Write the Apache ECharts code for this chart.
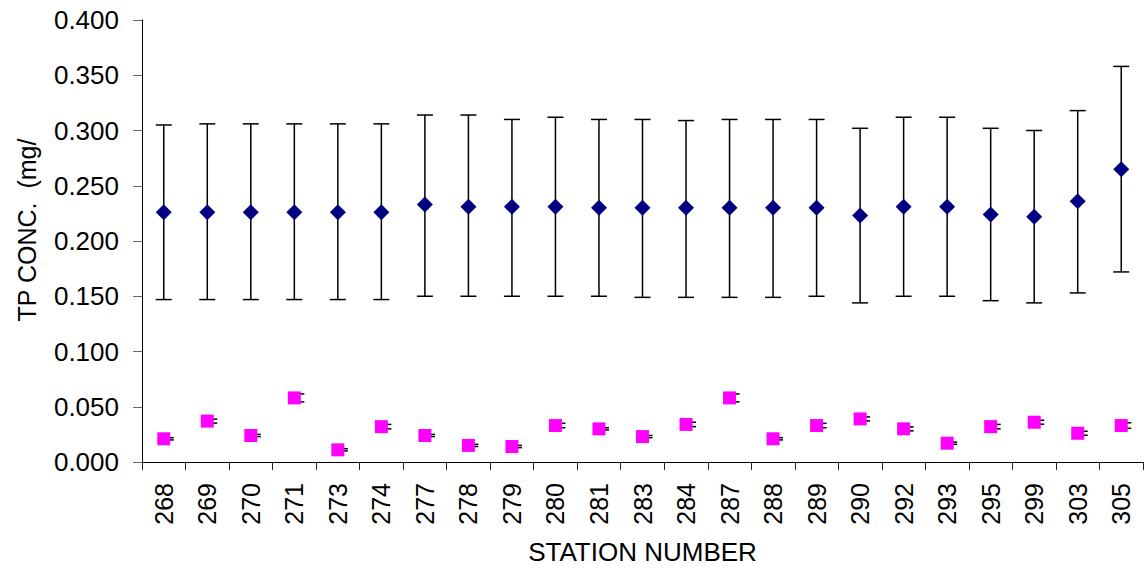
<!DOCTYPE html>
<html>
<head>
<meta charset="utf-8">
<script src="https://cdn.jsdelivr.net/npm/echarts@6/dist/echarts.min.js"></script>
<style>
  html, body { margin: 0; padding: 0; background: #fff; }
  #chart { width: 1144px; height: 571px; }
</style>
</head>
<body>
<div id="chart"></div>
<script>
// Station numbers (categories)
const stations = ['268','269','270','271','273','274','277','278','279','280','281','283','284','287','288','289','290','292','293','295','299','303','305'];

// Series 1 (navy diamonds): mean TP concentration with error-bar ends
const tpMean  = [0.226,0.226,0.226,0.226,0.226,0.226,0.233,0.231,0.231,0.231,0.230,0.230,0.230,0.230,0.230,0.230,0.223,0.231,0.231,0.224,0.222,0.236,0.265];
const tpUpper = [0.305,0.306,0.306,0.306,0.306,0.306,0.314,0.314,0.310,0.312,0.310,0.310,0.309,0.310,0.310,0.310,0.302,0.312,0.312,0.302,0.300,0.318,0.358];
const tpLower = [0.147,0.147,0.147,0.147,0.147,0.147,0.150,0.150,0.150,0.150,0.150,0.149,0.149,0.149,0.149,0.150,0.144,0.150,0.150,0.146,0.144,0.153,0.172];

// Series 2 (magenta squares): values with small error half-widths
const spMean = [0.021,0.037,0.024,0.058,0.011,0.032,0.024,0.015,0.014,0.033,0.030,0.023,0.034,0.058,0.021,0.033,0.039,0.030,0.017,0.032,0.036,0.026,0.033];
const spErr  = [0.001,0.0018,0.001,0.0036,0.001,0.002,0.001,0.001,0.001,0.002,0.001,0.001,0.002,0.0036,0.001,0.002,0.0018,0.0018,0.001,0.002,0.0018,0.0018,0.0025];

// Y tick settings
const yMin = 0, yMax = 0.4, yStep = 0.05;

const chart = echarts.init(document.getElementById('chart'), null, { renderer: 'svg' });

function errorBarRenderer(capLeft, capRight, width) {
  return function (params, api) {
    const i = api.value(0);
    const lo = api.coord([i, api.value(1)]);
    const hi = api.coord([i, api.value(2)]);
    const x = lo[0];
    const st = { stroke: '#000', lineWidth: width, fill: null };
    return {
      type: 'group',
      children: [
        { type: 'line', shape: { x1: x, y1: hi[1], x2: x, y2: lo[1] }, style: st },
        { type: 'line', shape: { x1: x - capLeft, y1: hi[1], x2: x + capRight, y2: hi[1] }, style: st },
        { type: 'line', shape: { x1: x - capLeft, y1: lo[1], x2: x + capRight, y2: lo[1] }, style: st }
      ]
    };
  };
}

const tpErrData = stations.map((s, i) => [i, tpLower[i], tpUpper[i]]);
const spErrData = stations.map((s, i) => [i, spMean[i] - spErr[i], spMean[i] + spErr[i]]);

chart.setOption({
  animation: false,
  backgroundColor: '#fff',
  grid: { left: 142, right: 1, top: 20, bottom: 109, containLabel: false },
  xAxis: {
    type: 'category',
    data: stations,
    boundaryGap: true,
    axisLine: { lineStyle: { color: '#000', width: 1 } },
    axisTick: { show: true, alignWithLabel: false, interval: 0, length: 8, lineStyle: { color: '#222' } },
    axisLabel: {
      interval: 0, rotate: 90, margin: 21,
      fontFamily: 'Liberation Sans, Arial, sans-serif', fontSize: 25, color: '#000'
    },
    splitLine: { show: false },
    name: 'STATION NUMBER',
    nameLocation: 'middle',
    nameGap: 77,
    nameTextStyle: { fontFamily: 'Liberation Sans, Arial, sans-serif', fontSize: 26, color: '#000' }
  },
  yAxis: {
    type: 'value',
    min: yMin, max: yMax, interval: yStep,
    axisLine: { show: true, lineStyle: { color: '#000', width: 1 } },
    axisTick: { show: true, length: 9, lineStyle: { color: '#666' } },
    axisLabel: {
      margin: 23,
      formatter: v => v.toFixed(3),
      fontFamily: 'Liberation Sans, Arial, sans-serif', fontSize: 26, color: '#000'
    },
    splitLine: { show: false }
  },
  graphic: [{
    type: 'text',
    x: 27, y: 230,
    rotation: Math.PI / 2,
    style: {
      text: 'TP CONC.  (mg/',
      font: '25px "Liberation Sans", Arial, sans-serif',
      fill: '#000',
      textAlign: 'center',
      textVerticalAlign: 'middle'
    }
  }],
  series: [
    {
      type: 'custom',
      renderItem: errorBarRenderer(8, 8, 1.5),
      data: tpErrData,
      encode: { x: 0, y: [1, 2] },
      z: 1
    },
    {
      type: 'custom',
      renderItem: errorBarRenderer(4, 10, 1.5),
      data: spErrData,
      encode: { x: 0, y: [1, 2] },
      z: 1
    },
    {
      type: 'scatter',
      data: tpMean,
      symbol: 'diamond',
      symbolSize: [16, 16],
      itemStyle: { color: '#000080', opacity: 1 },
      z: 3
    },
    {
      type: 'scatter',
      data: spMean,
      symbol: 'rect',
      symbolSize: 13,
      itemStyle: { color: '#FF00FF', opacity: 1 },
      z: 3
    }
  ]
});
</script>
</body>
</html>
